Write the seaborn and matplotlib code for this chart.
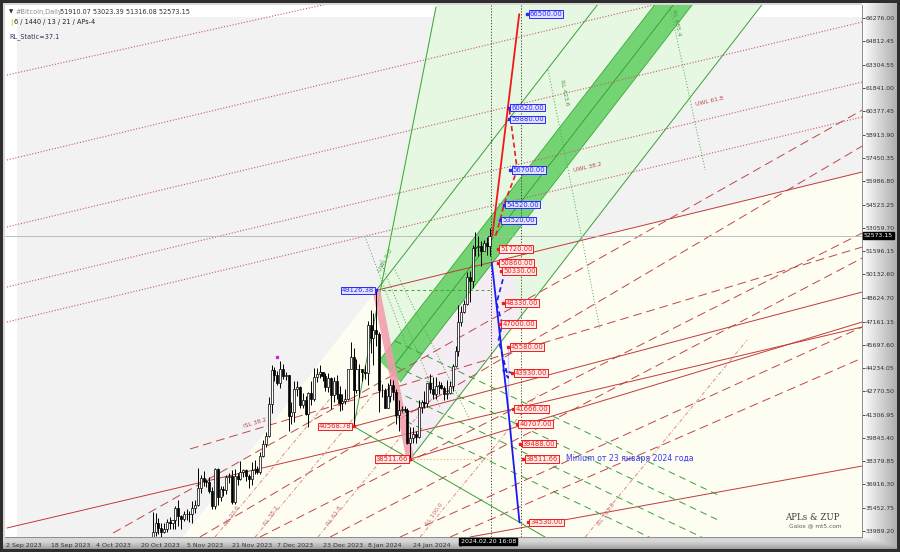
import numpy as np
import matplotlib
matplotlib.use("Agg")
import matplotlib.pyplot as plt
from matplotlib.patches import Polygon
import seaborn as sns
import pandas as pd

# ---- daily bars (day numbers counted from 2 Sep 2023) ----
first_day = 51            # 23 Oct 2023
first_open = 29990.0
closes = [33086, 33900, 34500, 34150, 33900, 34090, 34540, 34500, 34670,
          35440, 34940, 34730, 35080, 35050, 35040, 35420, 35650, 36700, 37310,
          37130, 37070, 36500, 35540, 37880, 36150, 36600, 36590, 37390, 37470,
          35810, 37430, 37290, 37720, 37800, 37480, 37250, 37830, 37860, 37720,
          38690, 39470, 39980, 41990, 44090, 43780, 43290, 44170, 43720, 43790,
          41240, 41450, 42890, 43020, 41930, 42240, 41360, 42650, 42270, 43650,
          43870, 43990, 43740, 43020, 43610, 42520, 43440, 42580, 42070, 42140, 42280,
          44180, 44950, 42850, 44180, 44160, 43970, 43930, 46970, 46120, 46630,
          46370, 42850, 42840, 41730, 42510, 43150, 42740, 41260, 41620, 41670,
          41580, 39510, 39850, 40080, 39930, 41820, 42120, 42030, 43300, 42950, 42580,
          43080, 43190, 42990, 42580, 42660, 43090, 44340, 45290, 47130, 47750,
          48290, 49960, 49700, 51790, 51830, 51940, 51620, 52130, 51910.07, 52573.15]
highs = [33400, 35200, 35100, 34800, 34480, 34480, 34750, 34850, 34700,
         35550, 35950, 35000, 35250, 35380, 35250, 35900, 35950, 37950, 37500,
         37750, 37250, 37400, 36750, 37950, 37980, 36850, 36850, 37490, 37650,
         37850, 37860, 37650, 38400, 37880, 37900, 37600, 38350, 38450, 38100,
         38950, 39700, 40200, 42400, 44450, 44300, 44050, 44700, 44500, 44000,
         43800, 42100, 43400, 43400, 43100, 42700, 42500, 42750, 43450, 44250,
         44250, 44400, 44000, 43950, 43950, 43650, 43650, 43800, 43100, 42600, 42900,
         44200, 45900, 45500, 44800, 44500, 44200, 44450, 47200, 47900, 47700,
         49126.38, 46500, 43250, 43000, 43300, 43550, 43500, 42900, 42200, 41850,
         41880, 41700, 40500, 40500, 40300, 42200, 42200, 42800, 43300, 43850, 43700,
         43700, 43400, 43350, 43100, 43500, 43400, 44500, 45600, 48200, 48150,
         48550, 50300, 50350, 52000, 52800, 52550, 52200, 52300, 52500, 53023.39]
lows = [29900, 32900, 33650, 33800, 33400, 33850, 33900, 34100, 34100,
        34100, 34300, 34100, 34600, 34700, 34550, 34500, 35150, 35550, 36350,
        36800, 36750, 36350, 35400, 35400, 35600, 35900, 36200, 36300, 37000,
        35700, 35700, 36900, 37200, 37400, 37150, 36700, 36900, 37600, 37550,
        37600, 38650, 39300, 39900, 41400, 43400, 43150, 43000, 43550, 43500,
        40300, 40700, 40850, 42450, 41700, 41700, 41300, 40550, 41900, 42150,
        43350, 43600, 43400, 42800, 42750, 41650, 42100, 42300, 41550, 41600, 41950,
        42200, 44150, 40568.78, 42650, 42400, 43450, 43550, 43200, 45200, 44400,
        45600, 41500, 42400, 41700, 41700, 42100, 42250, 40700, 40300, 41450,
        41450, 39450, 38511.66, 39500, 39500, 39850, 41400, 41700, 41800, 42700, 42300,
        42300, 42600, 42900, 42250, 42300, 42580, 42800, 44300, 45000, 46900,
        47700, 48200, 48400, 49300, 51300, 51300, 50650, 51600, 51350, 51316.08]

date_ticks = [0, 16, 32, 48, 64, 80, 96, 112, 128, 144, 160]
date_labels = ['2 Sep 2023', '18 Sep 2023', '4 Oct 2023', '20 Oct 2023', '5 Nov 2023',
               '21 Nov 2023', '7 Dec 2023', '23 Dec 2023', '8 Jan 2024', '24 Jan 2024', '9']
price_ticks = [33989.20, 35452.75, 36916.30, 38379.85, 39843.40, 41306.95, 42770.50,
               44234.05, 45697.60, 47161.15, 48624.70, 50132.60, 51596.15, 53059.70,
               54523.25, 55986.80, 57450.35, 58913.90, 60377.45, 61841.00, 63304.55,
               64812.45, 66276.00]
last_price = 52573.15

# ---- swing points ----
high_day, high_price = 131, 49126.38
low_day, low_price = 143, 38511.66
mid_day, mid_price = 123, 40568.78

# ---- projection levels (day of marker, price) ----
up_days = [184.3, 177.9, 177.9, 178.3, 176.1, 174.7]
up_prices = [66500.00, 60620.00, 59880.00, 56700.00, 54520.00, 53520.00]
down_days = [174.0, 174.0, 175.0, 175.8, 174.7, 177.6, 179.0, 179.3, 180.7, 181.8, 182.9, 184.6]
down_prices = [51720.00, 50860.00, 50330.00, 48330.00, 47000.00, 45580.00, 43930.00,
               41666.00, 40707.00, 39488.00, 38511.66, 34530.00]
red_path_days = [172.0, 181.5]
red_path_prices = [52573.15, 66500.00]
red_zig_days = [173.2, 174.7, 176.1, 180.8, 177.9]
red_zig_prices = [52573.15, 53520.00, 54520.00, 56700.00, 60620.00]
blue_path_days = [171.8, 177.6, 181.6]
blue_path_prices = [50860.00, 41666.00, 34530.00]
blue_zig_days = [176.5, 173.5, 175.5, 174.2, 177.6, 175.8, 179.0, 177.6]
blue_zig_prices = [50330, 48330, 47000, 46000, 45580, 44100, 43930, 41666]

# ---- background zones ----
grey_days = [4.1, 310, 310, 4.1]
grey_prices = [66318, 66318, 33000, 33000]
cream_days = [131, 61.7, 310, 310]
cream_prices = [49126.38, 33400, 33400, 56864]
channel_days = [131, 155.5, 279.9, 143]
channel_prices = [49126.38, 70000, 70000, 38511.66]
band_days = [132, 242, 255.3, 139.5]
band_prices = [44700, 70000, 70000, 43370]
band_mid_days = [135.75, 248.6]
band_mid_prices = [44035, 70000]
lilac_days = [139.5, 143, 182, 177]
lilac_prices = [43370, 38511.66, 47481, 51995]

# ---- fan lines: (day0, price0, day1, price1) ----
dotted_red = [(0.5, 47135, 302.7, 60030), (0.5, 49337, 302.7, 62231),
              (0.5, 53111, 302.7, 66005), (0.5, 57325, 302.7, 70219),
              (0.5, 62671, 302.7, 74600)]
dashed_red = [(38.0, 33863, 302.7, 60470), (65.2, 39147, 302.7, 51853),
              (68.7, 33612, 302.7, 58206), (89.9, 33612, 302.7, 52733),
              (114.7, 33612, 302.7, 51161), (139.4, 33612, 302.7, 46821),
              (157.1, 33612, 302.7, 44871)]
solid_red = [(0.5, 34178, 302.7, 46821), (high_day, high_price, 302.7, 56570),
             (mid_day, mid_price, 302.7, 49022), (low_day, low_price, 302.7, 47135),
             (164.1, 33612, 302.7, 38077)]
rl_lines = [(74.0, 33612, 116, 42600), (88.2, 33612, 130, 42600),
            (110.4, 33612, 152, 42600), (146.5, 33612, 188, 42600),
            (204.8, 33612, 262, 46000)]
green_solid = [(mid_day, mid_price, 152.1, 66949), (mid_day, mid_price, 190.6, 33612),
               (high_day, high_price, 221.8, 70000), (low_day, low_price, 279.9, 70000)]
green_dashed = [(137.6, 44367, 252.5, 34618), (137.6, 42795, 252.5, 33046),
                (137.6, 45939, 252.5, 36190), (137.6, 41223, 252.5, 31474)]
green_dotted = [(191.7, 62986, 210.1, 46632), (234.8, 66949, 247.2, 56696),
                (132.3, 51035, 153.5, 41789), (137.6, 50404, 164.1, 40971),
                (127.0, 52500, 142.0, 45500)]

sns.set_style("white")
plt.rcParams['font.family'] = ['DejaVu Sans']

fig = plt.figure(figsize=(9, 5.52), dpi=100)

# window frame with bevel
bg = fig.add_axes([0, 0, 1, 1], zorder=-10)
frame = np.full((552, 900), 0.84)
frame[:, 862:] = np.linspace(0.99, 0.66, 38)[None, :]
frame[537:, :] = np.minimum(frame[537:, :], np.linspace(0.95, 0.55, 15)[:, None])
frame[:, :3] = 0.18
frame[:, -3:] = 0.18
frame[:3, :] = 0.18
frame[-3:, :] = 0.18
bg.imshow(frame, cmap='gray', vmin=0, vmax=1, aspect='auto', extent=(0, 900, 552, 0))
bg.set_xlim(0, 900)
bg.set_ylim(552, 0)
bg.axis('off')

ax = fig.add_axes([5 / 900, 15 / 552, 857 / 900, 532 / 552])
ax.set_facecolor('white')
ax.set_xlim(-0.18, 302.6)
ax.set_ylim(33612, 67074)

# zones
for xs, ys, col, z in [(grey_days, grey_prices, '#f2f2f2', 0.1),
                       (cream_days, cream_prices, '#fdfdf1', 0.2),
                       (channel_days, channel_prices, '#e6f7e2', 0.3),
                       (lilac_days, lilac_prices, '#f4edf4', 0.35),
                       (band_days, band_prices, '#74d474', 0.4)]:
    ax.add_patch(Polygon(np.column_stack([xs, ys]), closed=True, fc=col, ec='none', zorder=z))
ax.plot(band_mid_days, band_mid_prices, color='#2f9a2f', lw=0.6, zorder=0.5)
ax.plot(band_days[:2], band_prices[:2], color='#3aa83a', lw=0.6, zorder=0.5)
ax.plot(band_days[2:], band_prices[2:], color='#3aa83a', lw=0.6, zorder=0.5)

for d0, p0, d1, p1 in dotted_red:
    ax.plot([d0, d1], [p0, p1], color='#c8586a', lw=0.8, ls=(0, (1, 1.6)), zorder=1)
for d0, p0, d1, p1 in dashed_red:
    ax.plot([d0, d1], [p0, p1], color='#c24545', lw=0.7, ls=(0, (9, 5)), zorder=1)
for d0, p0, d1, p1 in solid_red:
    ax.plot([d0, d1], [p0, p1], color='#c23a3a', lw=0.7, zorder=1)
for d0, p0, d1, p1 in rl_lines:
    ax.plot([d0, d1], [p0, p1], color='#e08a8a', lw=0.7, ls=(0, (4, 2, 1, 2)), zorder=1)
for d0, p0, d1, p1 in green_solid:
    ax.plot([d0, d1], [p0, p1], color='#3c9f3c', lw=0.7, zorder=1.2)
for d0, p0, d1, p1 in green_dashed:
    ax.plot([d0, d1], [p0, p1], color='#3c9f3c', lw=0.7, ls=(0, (7, 5)), zorder=1.2)
for d0, p0, d1, p1 in green_dotted:
    ax.plot([d0, d1], [p0, p1], color='#4aa84a', lw=0.7, ls=(0, (1, 2)), zorder=1.2)

# swing markers
ax.plot([high_day, low_day], [high_price, low_price], color='#f29aab', lw=5.5,
        alpha=0.85, solid_capstyle='butt', zorder=1.5)
ax.plot([high_day, 171], [high_price, high_price], color='#3c9f3c', lw=0.7, ls=(0, (3, 3)), zorder=1.3)
ax.plot([low_day, 171], [low_price, low_price], color='#f5b04a', lw=0.8, ls=(0, (1, 2)), zorder=1.3)
ax.axhline(last_price, color='#b4b4b4', lw=0.6, zorder=1.4)
for vd in [171.6, 182.2]:
    ax.axvline(vd, color='#303030', lw=0.6, ls=(0, (1.5, 2)), zorder=1.4)

# candles
opens = [first_open] + closes[:-1]
bars = pd.DataFrame({'day': np.arange(first_day, first_day + len(closes)),
                     'open': opens, 'high': highs, 'low': lows, 'close': closes})
ax.vlines(bars['day'], bars['low'], bars['high'], color='black', lw=0.7, zorder=3)
bull = bars['close'] >= bars['open']
body_lo = bars[['open', 'close']].min(axis=1)
body_h = (bars['close'] - bars['open']).abs().clip(lower=40)
ax.bar(bars['day'][bull], body_h[bull], bottom=body_lo[bull], width=0.72,
       color='white', edgecolor='black', lw=0.5, zorder=3.1)
ax.bar(bars['day'][~bull], body_h[~bull], bottom=body_lo[~bull], width=0.72,
       color='black', edgecolor='black', lw=0.5, zorder=3.1)
ax.plot([96], [44700 + 250], marker='s', ms=1.6, color='#e020e0', zorder=3.2)

# projections
sns.lineplot(x=red_path_days, y=red_path_prices, sort=False, color='#f01818', lw=1.3, ax=ax, zorder=4)
sns.lineplot(x=red_zig_days, y=red_zig_prices, sort=False, color='#f01818', lw=1.2,
             ls=(0, (3, 2)), ax=ax, zorder=4)
sns.lineplot(x=blue_path_days, y=blue_path_prices, sort=False, color='#1a1af0', lw=1.3, ax=ax, zorder=4)
sns.lineplot(x=blue_zig_days, y=blue_zig_prices, sort=False, color='#1a1af0', lw=1.2,
             ls=(0, (3, 2)), ax=ax, zorder=4)

def price_tag(day, price, color, fill, ha='left'):
    ax.plot([day], [price], marker='s', ms=2, color=color, zorder=5)
    off = 0.8 if ha == 'left' else -0.8
    ax.text(day + off, price, f'{price:.2f}', ha=ha, va='center', fontsize=4.9, color=color,
            zorder=6, bbox=dict(boxstyle='square,pad=0.12', fc=fill, ec=color, lw=0.7))

for d, p in zip(up_days, up_prices):
    price_tag(d, p, '#2828ff', '#e2e2ff')
for d, p in zip(down_days, down_prices):
    price_tag(d, p, '#f01c1c', '#ffeaea')
price_tag(high_day, high_price, '#2828ff', '#e2e2ff', ha='right')
price_tag(mid_day, mid_price, '#f01c1c', '#ffeaea', ha='right')
price_tag(low_day, low_price, '#f01c1c', '#ffeaea', ha='right')

# level captions
cap = dict(fontsize=4.3, zorder=2)
ax.text(243.6, 60700, 'UWL 61.8', color='#b84a4a', rotation=13, **cap)
ax.text(200.5, 56600, 'UWL 38.2', color='#b84a4a', rotation=13, **cap)
ax.text(84, 40500, 'ISL 38.2', color='#b84a4a', rotation=17, **cap)
for d, txt in [(77, 'RL 23.6'), (91, 'RL 38.2'), (113, 'RL 61.8'), (148, 'RL 100.0'), (209, 'RL 161.8')]:
    ax.text(d, 34300, txt, color='#c86a6a', rotation=55, **cap)
ax.text(195.5, 60800, 'RL 423.6', color='#4a9a4a', rotation=-78, **cap)
ax.text(235.0, 65200, 'RL 685.4', color='#4a9a4a', rotation=-78, **cap)
ax.text(131.5, 50300, 'UWL 0.0', color='#4a9a4a', rotation=62, **cap)
ax.text(198, 38580, 'Minium от 23 января 2024 года', fontsize=5.6, color='#3a3af0',
        va='center', zorder=6)

# axes styling
for s in ['left', 'top']:
    ax.spines[s].set_visible(False)
for s in ['right', 'bottom']:
    ax.spines[s].set_color('#8c8c8c')
    ax.spines[s].set_linewidth(0.7)
ax.yaxis.tick_right()
ax.set_yticks(price_ticks)
ax.set_yticklabels([f'{v:.2f}' for v in price_ticks])
ax.set_xticks(date_ticks)
ax.set_xticklabels(date_labels, ha='left')
ax.tick_params(axis='y', which='major', direction='out', length=2, width=0.6, pad=0.8,
               labelsize=4.4, colors='#303030')
ax.tick_params(axis='x', which='major', direction='out', length=3, width=0.6, pad=1.2,
               labelsize=4.5, colors='#303030')
ax.grid(False)

ytr = ax.get_yaxis_transform()
ax.text(1.002, last_price, f'{last_price:.2f}', transform=ytr, fontsize=4.4, color='white',
        va='center', ha='left', zorder=7, clip_on=False,
        bbox=dict(boxstyle='square,pad=0.12', fc='black', ec='black'))
xtr = ax.get_xaxis_transform()
ax.text(160.8, -0.004, '2024.02.20 16:08', transform=xtr, fontsize=4.5, color='white',
        va='top', ha='left', zorder=7, clip_on=False,
        bbox=dict(boxstyle='square,pad=0.2', fc='black', ec='black'))

# header and signature
fig.text(9 / 900, 1 - 12 / 552, '▼', fontsize=4, color='#303030', va='center')
fig.text(16 / 900, 1 - 12 / 552, '#Bitcoin,Daily', fontsize=4.7, color='#8a8a8a', va='center')
fig.text(60 / 900, 1 - 12 / 552, '51910.07 53023.39 51316.08 52573.15', fontsize=4.7,
         color='#303030', va='center')
fig.text(10 / 900, 1 - 22 / 552, '|', fontsize=5, color='#e0c000', va='center', weight='bold')
fig.text(14 / 900, 1 - 22 / 552, '6 / 1440 / 13 / 21 / APs-4', fontsize=4.7, color='#202020',
         va='center')
fig.text(9 / 900, 1 - 37 / 552, 'RL_Static=37.1', fontsize=4.7, color='#303060', va='center')
fig.text(840 / 900, 1 - 517 / 552, 'APLs & ZUP', fontsize=6.2, color='#404040',
         family='DejaVu Serif', ha='right', va='center')
fig.text(842 / 900, 1 - 526 / 552, 'Galox @ mt5.com', fontsize=4.2, color='#606060',
         ha='right', va='center')

fig.savefig('out.png', dpi=100)
